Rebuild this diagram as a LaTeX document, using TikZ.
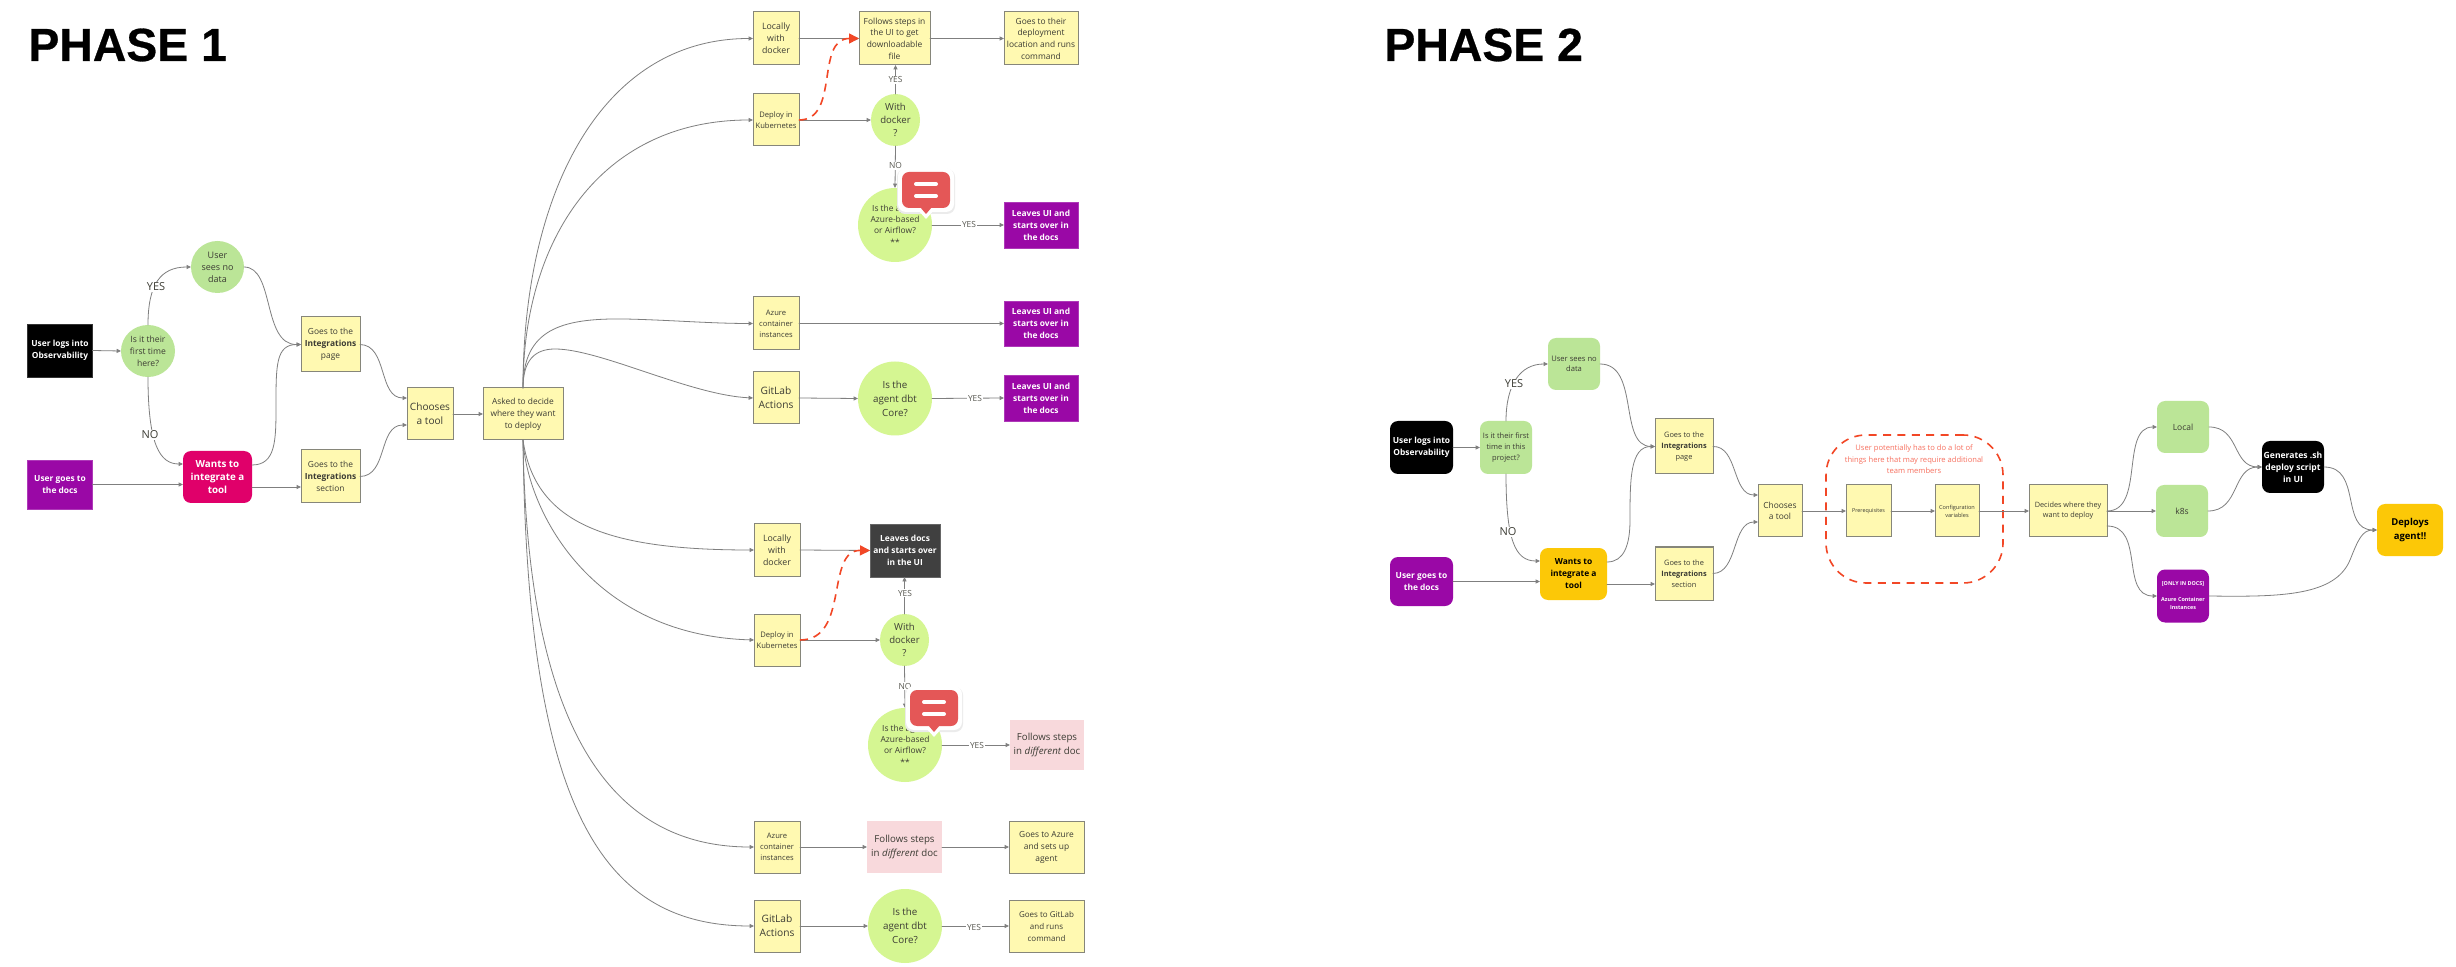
\documentclass[tikz,border=0pt]{standalone}
\usepackage{fontspec}
\setmainfont{Open Sans}
\newfontfamily\titlefont[BoldFeatures={FakeBold=0.6}]{Liberation Sans}
\usetikzlibrary{shapes.geometric,arrows.meta}
\newcommand{\fz}[2]{\fontsize{#1}{#2}\selectfont}
\definecolor{noteY}{HTML}{FFF9B1}
\definecolor{noteL}{HTML}{86867A}
\definecolor{greenA}{HTML}{BBE597}
\definecolor{limeA}{HTML}{D5F692}
\definecolor{purpleA}{HTML}{9A08A6}
\definecolor{crimsonA}{HTML}{E0006A}
\definecolor{amberA}{HTML}{FCC807}
\definecolor{darkA}{HTML}{404040}
\definecolor{pinkA}{HTML}{F8D9DC}
\definecolor{redA}{HTML}{F24726}
\definecolor{redT}{HTML}{F7705F}
\definecolor{bubbleR}{HTML}{E45757}
\definecolor{lineG}{HTML}{7F7F7F}
\definecolor{textD}{HTML}{3C3C34}
\tikzset{
  sz/.style 2 args={minimum width=#1*0.5pt,minimum height=#2*0.5pt},
  basenode/.style={inner sep=0pt,outer sep=0pt,align=center,text=textD},
  note/.style={basenode,rectangle,draw=noteL,line width=0.5pt,fill=noteY},
  flat/.style={basenode,rectangle,fill=#1,draw=#1!80!white,line width=0.3pt,text=white,font=\fz{4.2}{6}\bfseries},
  pinkbox/.style={basenode,rectangle,fill=pinkA,font=\fz{4.85}{7}},
  oval/.style={basenode,ellipse,inner sep=-6pt,fill=#1},
  round/.style={basenode,rectangle,rounded corners=4pt,fill=#1},
  conn/.style={draw=lineG,line width=0.4pt,-{Stealth[length=2.2pt,width=2pt,inset=0pt]},line cap=round},
  reddash/.style={draw=redA,line width=0.8pt,dash pattern=on 4pt off 3pt,-{Stealth[length=5pt,width=5pt,inset=0pt]}},
  lab/.style={inner sep=0.7pt,fill=white,text=textD!85,font=\fz{4.2}{5}},
  labbig/.style={inner sep=0.7pt,fill=white,text=textD,font=\fz{5.5}{6}},
  ttl/.style={inner sep=0pt,anchor=west,text=black,font=\titlefont\bfseries\fz{23.2}{26}},
}
\newcommand{\bubbleat}[2]{%
  \begin{scope}[shift={(#1,#2)}]
    \fill[black!8,rounded corners=4pt] (-5,-3) rectangle (53,42);
    \fill[white,rounded corners=4pt] (-4,-4) rectangle (52,40);
    \fill[white] (16,38) -- (24,47) -- (32,38) -- cycle;
    \fill[bubbleR,rounded corners=3.5pt] (0,0) rectangle (48,36);
    \fill[bubbleR] (18,35) -- (24,42) -- (30,35) -- cycle;
    \draw[white,line width=2pt,line cap=round] (14,12) -- (34,12);
    \draw[white,line width=2pt,line cap=round] (14,24) -- (34,24);
  \end{scope}}
\begin{document}
\begin{tikzpicture}[x=0.5pt,y=-0.5pt]
\useasboundingbox[fill=white] (0,0) rectangle (2456,967);

% ---------- PHASE 1 ----------
\node[ttl] (t1) at (28,45) {PHASE 1};
\node[flat=black,sz={65}{53}] (a1) at (60,350.5) {User logs into\\Observability};
\node[oval=greenA,sz={54}{52},font=\fz{4.3}{5.9}] (a2) at (148,351) {Is it their\\first time\\here?};
\node[oval=greenA,sz={53}{52},font=\fz{4.5}{6}] (a3) at (217.5,267) {User\\sees no\\data};
\node[flat=purpleA,sz={65}{49}] (a4) at (60,484.5) {User goes to\\the docs};
\node[round=crimsonA,sz={69}{52},text=white,font=\fz{4.9}{6.7}\bfseries] (a5) at (217.5,477) {Wants to\\integrate a\\tool};
\node[note,sz={59}{55},font=\fz{4.2}{6}] (a6) at (330.5,344.5) {Goes to the\\\textbf{Integrations}\\page};
\node[note,sz={59}{53},font=\fz{4.2}{6}] (a7) at (330.5,476.5) {Goes to the\\\textbf{Integrations}\\section};
\node[note,sz={46}{52},font=\fz{5.05}{7}] (a8) at (430,414) {Chooses\\a tool};
\node[note,sz={80}{52},font=\fz{4.2}{6}] (a9) at (523,414) {Asked to decide\\where they want\\to deploy};

% upper branch
\node[note,sz={46}{53},font=\fz{4.4}{6}] (b1) at (776,38.5) {Locally\\with\\docker};
\node[note,sz={46}{52},font=\fz{3.8}{5.5}] (b2) at (776,120) {Deploy in\\Kubernetes};
\node[note,sz={71}{53},font=\fz{4.2}{5.8}] (b3) at (894.5,38.5) {Follows steps in\\the UI to get\\downloadable\\file};
\node[note,sz={74}{53},font=\fz{4.2}{5.8}] (b4) at (1041,38.5) {Goes to their\\deployment\\location and runs\\command};
\node[oval=limeA,sz={49}{52},font=\fz{4.8}{6.5}] (b5) at (895.5,120) {With\\docker\\?};
\node[oval=limeA,sz={74}{74},font=\fz{4.2}{5.7}] (b6) at (895,225) {Is the agent\\Azure-based\\or Airflow?\\**};
\node[flat=purpleA,sz={74}{46}] (b7) at (1041,225) {Leaves UI and\\starts over in\\the docs};
\node[note,sz={46}{53},font=\fz{3.8}{5.5}] (b8) at (776,323.5) {Azure\\container\\instances};
\node[flat=purpleA,sz={74}{45}] (b9) at (1041,323.5) {Leaves UI and\\starts over in\\the docs};
\node[note,sz={46}{52},font=\fz{5.1}{7}] (b10) at (776,398) {GitLab\\Actions};
\node[oval=limeA,sz={74}{74},font=\fz{4.9}{7}] (b11) at (895,398.5) {Is the\\agent dbt\\Core?};
\node[flat=purpleA,sz={74}{46}] (b12) at (1041,398) {Leaves UI and\\starts over in\\the docs};

% lower branch
\node[note,sz={46}{53},font=\fz{4.4}{6}] (c1) at (777,550) {Locally\\with\\docker};
\node[note,sz={46}{52},font=\fz{3.8}{5.5}] (c2) at (777,640) {Deploy in\\Kubernetes};
\node[flat=darkA,sz={70}{53}] (c3) at (905,550.5) {Leaves docs\\and starts over\\in the UI};
\node[oval=limeA,sz={49}{52},font=\fz{4.8}{6.5}] (c5) at (904.5,640) {With\\docker\\?};
\node[oval=limeA,sz={74}{74},font=\fz{4.2}{5.7}] (c6) at (905,745) {Is the agent\\Azure-based\\or Airflow?\\**};
\node[pinkbox,sz={74}{50}] (c7) at (1047,745) {Follows steps\\in \textit{different} doc};
\node[note,sz={46}{52},font=\fz{3.8}{5.5}] (c8) at (777,847) {Azure\\container\\instances};
\node[pinkbox,sz={75}{52}] (c9) at (904.5,847) {Follows steps\\in \textit{different} doc};
\node[note,sz={75}{52},font=\fz{4.2}{6}] (c10) at (1046.5,847) {Goes to Azure\\and sets up\\agent};
\node[note,sz={46}{52},font=\fz{5.1}{7}] (c11) at (777,926) {GitLab\\Actions};
\node[oval=limeA,sz={74}{74},font=\fz{4.9}{7}] (c12) at (905,926) {Is the\\agent dbt\\Core?};
\node[note,sz={75}{52},font=\fz{4.0}{6}] (c13) at (1046.5,926) {Goes to GitLab\\and runs\\command};

% connectors phase 1
\draw[conn] (a1.east) -- (a2.west);
\draw[conn] (a2.north) .. controls (148,285) and (160,267) .. (a3.west);
\draw[conn] (a2.south) .. controls (148,445) and (160,464) .. (a5.west |- 0,464);
\draw[conn] (a4.east) -- (a5.west |- a4.east);
\draw[conn] (a3.east) .. controls (275,267) and (262,345) .. (a6.west);
\draw[conn] (a5.east |- 0,465) .. controls (276,465) and (276,440) .. (276,405) .. controls (276,365) and (276,344.5) .. (a6.west);
\draw[conn] (a5.east |- 0,487) -- (a7.west |- 0,487);
\draw[conn] (a6.east) .. controls (388,345) and (378,398) .. (a8.west |- 0,398);
\draw[conn] (a7.east) .. controls (388,476) and (378,425) .. (a8.west |- 0,425);
\draw[conn] (a8.east) -- (a9.west);
\draw[conn] (a9.north) .. controls (523,195) and (600,38.5) .. (b1.west);
\draw[conn] (a9.north) .. controls (523,240) and (600,120) .. (b2.west);
\draw[conn] (a9.north) .. controls (523,330) and (560,318) .. (625,319) .. controls (670,320) and (710,323.5) .. (b8.west);
\draw[conn] (a9.north) .. controls (523,360) and (535,349) .. (555,349) .. controls (600,349) and (690,395) .. (b10.west);
\draw[conn] (a9.south) .. controls (535,525) and (610,550) .. (c1.west);
\draw[conn] (a9.south) .. controls (527,510) and (590,635) .. (c2.west);
\draw[conn] (a9.south) .. controls (527,710) and (600,847) .. (c8.west);
\draw[conn] (a9.south) .. controls (527,805) and (600,926) .. (c11.west);

\draw[conn] (b1.east) -- (b3.west);
\draw[conn] (b3.east) -- (b4.west);
\draw[conn] (b2.east) -- (b5.west);
\draw[conn] (b5.north) -- (b5.north |- b3.south);
\draw[conn] (b5.south) -- (b6.north);
\draw[conn] (b6.east) -- (b7.west);
\draw[conn] (b8.east) -- (b9.west);
\draw[conn] (b10.east) -- (b11.west);
\draw[conn] (b11.east) -- (b12.west);
\draw[reddash] (b2.east) .. controls (840,120) and (815,38.5) .. (b3.west);

\draw[conn] (c1.east) -- (c3.west);
\draw[conn] (c2.east) -- (c5.west);
\draw[conn] (c5.north) -- (c5.north |- c3.south);
\draw[conn] (c5.south) -- (c6.north);
\draw[conn] (c6.east) -- (c7.west);
\draw[conn] (c8.east) -- (c9.west);
\draw[conn] (c9.east) -- (c10.west);
\draw[conn] (c11.east) -- (c12.west);
\draw[conn] (c12.east) -- (c13.west);
\draw[reddash] (c2.east) .. controls (850,640) and (825,550) .. (c3.west);

\node[labbig] (l1) at (156,287) {YES};
\node[labbig] (l2) at (150,435) {NO};
\node[lab] (l3) at (895.5,80) {YES};
\node[lab] (l4) at (895.5,166) {NO};
\node[lab] (l5) at (969,225) {YES};
\node[lab] (l6) at (975,399) {YES};
\node[lab] (l7) at (905,593) {YES};
\node[lab] (l8) at (905,686) {NO};
\node[lab] (l9) at (977,745) {YES};
\node[lab] (l10) at (974,927) {YES};

\bubbleat{902}{172}
\bubbleat{910}{690}

% ---------- PHASE 2 ----------
\node[ttl] (t2) at (1384,45) {PHASE 2};
\node[round=black,sz={63}{53},text=white,font=\fz{4.2}{6}\bfseries] (d1) at (1421.5,447.5) {User logs into\\Observability};
\node[round=greenA,sz={52}{53},font=\fz{3.75}{5.5}] (d2) at (1506,447.5) {Is it their first\\time in this\\project?};
\node[round=greenA,sz={52}{52},font=\fz{3.8}{5}] (d3) at (1574,364) {User sees no\\data};
\node[round=purpleA,sz={63}{49},text=white,font=\fz{4.2}{6}\bfseries] (d4) at (1421.5,581.5) {User goes to\\the docs};
\node[round=amberA,sz={67}{52},text=black,font=\fz{4.2}{6}\bfseries] (d5) at (1573.5,574) {Wants to\\integrate a\\tool};
\node[note,sz={58}{55},font=\fz{3.7}{5.5}] (d6) at (1684,446.5) {Goes to the\\\textbf{Integrations}\\page};
\node[note,sz={58}{53},font=\fz{3.7}{5.5}] (d7) at (1684,573.5) {Goes to the\\\textbf{Integrations}\\section};
\node[note,sz={44}{52},font=\fz{4.2}{5.4}] (d8) at (1780,511) {Chooses\\a tool};
\node[note,sz={45}{52},font=\fz{2.7}{4}] (d9) at (1868.5,511) {Prerequisites};
\node[note,sz={44}{52},font=\fz{2.8}{4}] (d10) at (1957,511) {Configuration\\variables};
\node[note,sz={78}{52},font=\fz{3.65}{5}] (d11) at (2068,511) {Decides where they\\want to deploy};
\node[round=greenA,sz={52}{52},font=\fz{4.25}{6}] (d12) at (2183,427) {Local};
\node[round=greenA,sz={52}{52},font=\fz{4.25}{6}] (d13) at (2182,511) {k8s};
\node[round=purpleA,sz={52}{53},text=white,font=\fz{2.7}{4}\bfseries] (d14) at (2183,596) {[ONLY IN DOCS]\\[4pt]Azure Container\\Instances};
\node[round=black,sz={62}{52},text=white,font=\fz{4.3}{6}\bfseries] (d15) at (2293,467) {Generates .sh\\deploy script\\in UI};
\node[round=amberA,sz={66}{52},text=black,font=\fz{4.75}{7}\bfseries] (d16) at (2410,530) {Deploys\\agent!!};

\node[rectangle,rounded corners=20pt,draw=redA,line width=0.8pt,dash pattern=on 4pt off 3.2pt,sz={177}{148},inner sep=0pt] (zone) at (1914.5,509) {};
\node[inner sep=0pt,align=center,text=redT,font=\fz{3.8}{5.8}] (note) at (1914,459.5) {User potentially has to do a lot of\\things here that may require additional\\team members};

\draw[conn] (d1.east) -- (d2.west);
\draw[conn] (d2.north) .. controls (1506,385) and (1520,364) .. (d3.west);
\draw[conn] (d2.south) .. controls (1506,540) and (1515,561) .. (d5.west |- 0,561);
\draw[conn] (d4.east) -- (d5.west |- d4.east);
\draw[conn] (d3.east) .. controls (1640,364) and (1618,446) .. (d6.west);
\draw[conn] (d5.east |- 0,562) .. controls (1624,562) and (1630,545) .. (1630,520) .. controls (1630,480) and (1630,446.5) .. (d6.west);
\draw[conn] (d5.east |- 0,584) -- (d7.west |- 0,584);
\draw[conn] (d6.east) .. controls (1738,446) and (1732,495) .. (d8.west |- 0,495);
\draw[conn] (d7.east) .. controls (1738,573) and (1732,522) .. (d8.west |- 0,522);
\draw[conn] (d8.east) -- (d9.west);
\draw[conn] (d9.east) -- (d10.west);
\draw[conn] (d10.east) -- (d11.west);
\draw[conn] (d11.east) -- (d13.west);
\draw[conn] (d11.east) .. controls (2145,511) and (2120,427) .. (d12.west);
\draw[conn] (d11.east |- 0,526) .. controls (2145,526) and (2120,596) .. (d14.west);
\draw[conn] (d12.east) .. controls (2240,427) and (2232,467) .. (d15.west);
\draw[conn] (d13.east) .. controls (2240,511) and (2232,467) .. (d15.west);
\draw[conn] (d15.east) .. controls (2362,467) and (2340,530) .. (d16.west);
\draw[conn] (d14.east) .. controls (2281,597) and (2335,596) .. (2350,560) .. controls (2358,540) and (2362,530) .. (d16.west);

\node[labbig] (m1) at (1514,384) {YES};
\node[labbig] (m2) at (1508,532) {NO};
\end{tikzpicture}
\end{document}
